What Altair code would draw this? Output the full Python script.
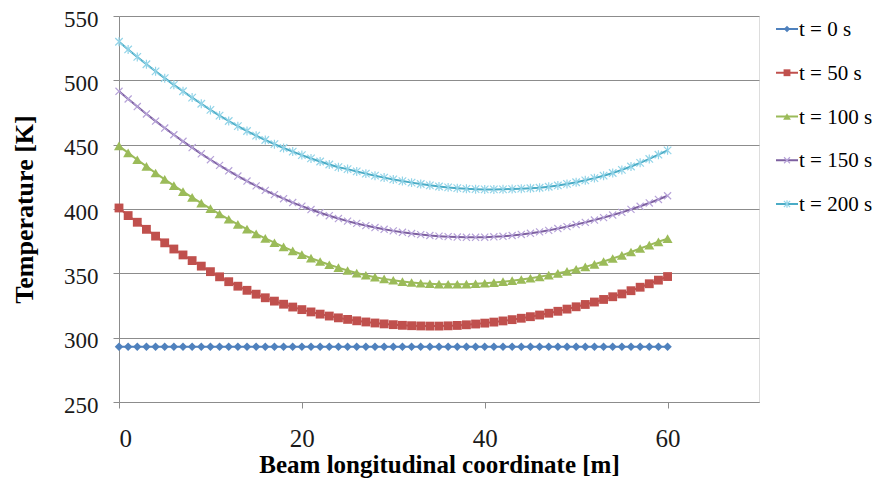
import altair as alt
import pandas as pd

# ---- data ----
x_m = list(range(0, 61))

labels = ["t = 0 s", "t = 50 s", "t = 100 s", "t = 150 s", "t = 200 s"]

t0 = [293.0] * 61

t50 = [400.8, 394.9, 389.7, 384.2, 378.9, 373.7, 368.9, 364.3, 359.9, 355.6,
       351.3, 347.3, 343.5, 340.0, 336.8, 333.8, 331.0, 328.4, 326.0, 323.8,
       321.8, 320.0, 318.3, 316.8, 315.4, 314.2, 313.1, 312.2, 311.4, 310.7,
       310.1, 309.6, 309.3, 309.1, 309.0, 309.0, 309.2, 309.5, 310.0, 310.6,
       311.3, 312.1, 313.0, 314.0, 315.1, 316.3, 317.6, 319.0, 320.5, 322.2,
       324.0, 325.8, 327.7, 329.7, 331.8, 334.0, 336.5, 339.2, 341.9, 344.7,
       347.5]

t100 = [449.0, 443.6, 438.3, 433.1, 428.0, 423.0, 418.2, 413.5, 409.0, 404.6,
        400.3, 396.1, 392.0, 388.1, 384.3, 380.7, 377.2, 373.8, 370.6, 367.5,
        364.6, 361.8, 359.2, 356.7, 354.4, 352.2, 350.2, 348.5, 347.0, 345.7,
        344.6, 343.6, 342.9, 342.3, 341.9, 341.6, 341.5, 341.5, 341.6, 341.9,
        342.3, 342.8, 343.5, 344.3, 345.2, 346.2, 347.3, 348.6, 350.0, 351.5,
        353.2, 355.0, 357.0, 359.2, 361.5, 364.0, 366.6, 369.3, 371.9, 374.5,
        377.0]

t150 = [491.5, 485.5, 479.6, 473.9, 468.3, 462.9, 457.7, 452.6, 447.7, 442.9,
        438.3, 433.9, 429.7, 425.6, 421.7, 418.0, 414.5, 411.2, 408.0, 405.0,
        402.2, 399.6, 397.1, 394.8, 392.6, 390.6, 388.8, 387.1, 385.6, 384.2,
        383.0, 381.9, 380.9, 380.1, 379.4, 378.9, 378.5, 378.2, 378.0, 378.0,
        378.1, 378.4, 378.8, 379.4, 380.2, 381.1, 382.2, 383.4, 384.8, 386.3,
        387.9, 389.6, 391.4, 393.3, 395.3, 397.4, 399.7, 402.1, 404.7, 407.4,
        410.3]

t200 = [530.0, 524.0, 518.2, 512.5, 507.0, 501.7, 496.5, 491.5, 486.6, 481.8,
        477.0, 472.6, 468.4, 464.4, 460.6, 457.0, 453.6, 450.4, 447.4, 444.6,
        441.9, 439.3, 436.9, 434.6, 432.5, 431.0, 429.2, 427.5, 425.9, 424.4,
        423.0, 421.7, 420.5, 419.4, 418.4, 417.5, 416.8, 416.2, 415.7, 415.4,
        415.2, 415.2, 415.3, 415.5, 415.8, 416.1, 416.5, 417.3, 418.3, 419.5,
        420.8, 422.3, 424.0, 425.9, 428.0, 430.4, 433.0, 435.9, 438.9, 442.2,
        445.6]

series_values = [t0, t50, t100, t150, t200]

x_ticks = [0, 20, 40, 60]
y_ticks = [250, 300, 350, 400, 450, 500, 550]

# ---- styles ----
line_colors = ["#4F81BD", "#C0504D", "#9BBB59", "#7D60A0", "#4BACC6"]
marker_colors = ["#4F81BD", "#C0504D", "#9BBB59", "#B6A2D8", "#93D4E8"]
X_PATH = "M-1,-1L1,1M1,-1L-1,1"
STAR_PATH = "M-1,-1L1,1M1,-1L-1,1M0,-1.2L0,1.2"
marker_shapes = ["diamond", "square", "triangle-up", X_PATH, STAR_PATH]
marker_filled = [True, True, True, False, False]
marker_sizes = [72, 78, 100, 50, 56]

FONT = "Liberation Serif"

rows = []
for lab, vals in zip(labels, series_values):
    for xv, yv in zip(x_m, vals):
        rows.append({"series": lab, "x": xv, "T": yv})
df = pd.DataFrame(rows)

xenc = alt.X("x:Q",
             scale=alt.Scale(domain=[0, 70], nice=False, zero=False),
             axis=alt.Axis(values=x_ticks, title="Beam longitudinal coordinate [m]",
                           grid=False, tickSize=6, labelPadding=18,
                           labelFontSize=25, titleFontSize=25, titlePadding=1,
                           labelFont=FONT, titleFont=FONT, titleFontWeight="bold",
                           domainColor="#8C8C8C", tickColor="#8C8C8C",
                           labelColor="#1a1a1a", titleColor="#000000"))
yenc = alt.Y("T:Q",
             scale=alt.Scale(domain=[250, 550], nice=False, zero=False),
             axis=alt.Axis(values=y_ticks, title="Temperature [K]",
                           grid=True, gridColor="#8C8C8C", gridWidth=1,
                           tickSize=6, labelPadding=15, labelOffset=3,
                           labelFontSize=23, titleFontSize=26, titlePadding=26,
                           labelFont=FONT, titleFont=FONT, titleFontWeight="bold",
                           domainColor="#8C8C8C", tickColor="#8C8C8C",
                           labelColor="#1a1a1a", titleColor="#000000"))

layers = []
for i, lab in enumerate(labels):
    base = alt.Chart(df).transform_filter(alt.datum.series == lab)
    layers.append(base.mark_line(color=line_colors[i], strokeWidth=2).encode(x=xenc, y=yenc))
    if marker_filled[i]:
        pt = base.mark_point(shape=marker_shapes[i], filled=True, color=marker_colors[i],
                             size=marker_sizes[i], opacity=1)
    else:
        pt = base.mark_point(shape=marker_shapes[i], filled=False, color=marker_colors[i],
                             size=marker_sizes[i], strokeWidth=1.2, opacity=1)
    layers.append(pt.encode(x=xenc, y=yenc))

# ---- manual legend (line + marker + label), placed right of the plot ----
leg_df = pd.DataFrame({"series": labels})
LEG_X0, LEG_X1, LEG_TX = 657, 679, 680
LEG_Y0, LEG_DY = 13, 43.75
for i, lab in enumerate(labels):
    lb = alt.Chart(leg_df).transform_filter(alt.datum.series == lab)
    yy = LEG_Y0 + i * LEG_DY
    layers.append(lb.mark_rule(color=line_colors[i], strokeWidth=2).encode(
        x=alt.value(LEG_X0), x2=alt.value(LEG_X1), y=alt.value(yy)))
    if marker_filled[i]:
        lp = lb.mark_point(shape=marker_shapes[i], filled=True, color=marker_colors[i],
                           size=marker_sizes[i] * 0.6, opacity=1)
    else:
        lp = lb.mark_point(shape=marker_shapes[i], filled=False, color=marker_colors[i],
                           size=marker_sizes[i] * 0.7, strokeWidth=1.2, opacity=1)
    layers.append(lp.encode(x=alt.value((LEG_X0 + LEG_X1) / 2), y=alt.value(yy)))
    layers.append(lb.mark_text(align="left", baseline="middle", font=FONT, fontSize=21,
                               color="#000000").encode(
        x=alt.value(LEG_TX), y=alt.value(yy + 1), text="series:N"))

chart = alt.layer(*layers).properties(
    width=640, height=386,
    padding={"left": 111, "top": 8, "right": 117, "bottom": 77},
    autosize=alt.AutoSizeParams(type="none"),
).configure_view(stroke=None).configure(background="white")

chart.save("out.html", embed_options={"renderer": "svg", "actions": False})
